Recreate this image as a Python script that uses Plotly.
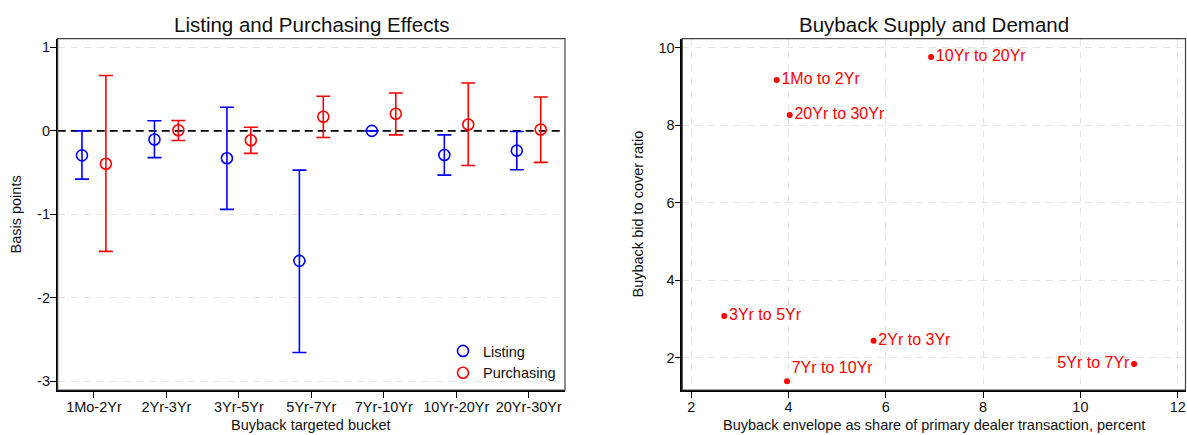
import plotly.graph_objects as go

W, H = 1187, 435

# ---------------- data ----------------
buckets = ["1Mo-2Yr", "2Yr-3Yr", "3Yr-5Yr", "5Yr-7Yr", "7Yr-10Yr", "10Yr-20Yr", "20Yr-30Yr"]
listing_est = [-0.293, -0.104, -0.328, -1.557, 0.0, -0.289, -0.237]
listing_lo = [-0.578, -0.321, -0.940, -2.655, None, -0.530, -0.466]
listing_hi = [0.0, 0.122, 0.282, -0.470, None, -0.048, -0.008]
purch_est = [-0.394, 0.008, -0.112, 0.169, 0.205, 0.076, 0.016]
purch_lo = [-1.444, -0.116, -0.270, -0.080, -0.048, -0.414, -0.378]
purch_hi = [0.664, 0.124, 0.044, 0.414, 0.454, 0.574, 0.406]

sd_labels = ["1Mo to 2Yr", "2Yr to 3Yr", "3Yr to 5Yr", "5Yr to 7Yr", "7Yr to 10Yr", "10Yr to 20Yr", "20Yr to 30Yr"]
envelope_share = [3.756, 5.748, 2.678, 11.104, 3.967, 6.93, 4.023]
bid_to_cover = [9.166, 2.438, 3.076, 1.837, 1.391, 9.76, 8.263]
sd_textpos = ["middle right", "middle right", "middle right", "middle left", "top right", "middle right", "middle right"]

left_yticks = [1, 0, -1, -2, -3]
left_yticktext = ["1", "0", "-1", "-2", "-3"]
left_gridvals = [1, -1, -2, -3]
right_xticks = [2, 4, 6, 8, 10, 12]
right_yticks = [2, 4, 6, 8, 10]

BLUE = "#0000ff"
RED = "#ff0000"
FONT = "Liberation Sans, Arial, sans-serif"
GRID = "#e6e6e6"

def px_x(p):
    return p / W

def px_y(p):
    return 1 - p / H

offset = 0.165
pos = list(range(1, len(buckets) + 1))
x_list = [p - offset for p in pos]
x_purch = [p + offset for p in pos]

def err(est, lo, hi):
    plus = [None if h is None else h - e for e, h in zip(est, hi)]
    minus = [None if l is None else e - l for e, l in zip(est, lo)]
    return plus, minus

lp, lm = err(listing_est, listing_lo, listing_hi)
pp, pm = err(purch_est, purch_lo, purch_hi)

fig = go.Figure()

marker_open = dict(symbol="circle-open", size=11, line=dict(width=1.6))

fig.add_trace(go.Scatter(
    x=x_list, y=listing_est, mode="markers", showlegend=False,
    marker=dict(color=BLUE, **marker_open),
    error_y=dict(type="data", symmetric=False, array=lp, arrayminus=lm,
                 color=BLUE, thickness=1.6, width=7),
    xaxis="x", yaxis="y"))
fig.add_trace(go.Scatter(
    x=x_purch, y=purch_est, mode="markers", showlegend=False,
    marker=dict(color=RED, **marker_open),
    error_y=dict(type="data", symmetric=False, array=pp, arrayminus=pm,
                 color=RED, thickness=1.6, width=7),
    xaxis="x", yaxis="y"))
# legend entries
fig.add_trace(go.Scatter(x=[None], y=[None], mode="markers", name="Listing",
                         marker=dict(color=BLUE, **marker_open), xaxis="x", yaxis="y"))
fig.add_trace(go.Scatter(x=[None], y=[None], mode="markers", name="Purchasing",
                         marker=dict(color=RED, **marker_open), xaxis="x", yaxis="y"))

# right panel
fig.add_trace(go.Scatter(
    x=envelope_share, y=bid_to_cover, mode="markers+text", text=sd_labels,
    textposition=sd_textpos, textfont=dict(color=RED, size=16, family=FONT),
    marker=dict(color=RED, size=6), showlegend=False, xaxis="x2", yaxis="y2",
    cliponaxis=False))

axis_common = dict(showline=True, linecolor="black", linewidth=1.6, ticks="outside",
                   ticklen=6, tickwidth=1.4, tickcolor="black",
                   tickfont=dict(size=14.5, color="#111", family=FONT), zeroline=False,
                   ticklabelstandoff=-3)

grid_common = dict(showgrid=True, gridcolor=GRID, griddash="7px,6px", gridwidth=1.2)

left_dom_y = [px_y(390), px_y(38.7)]
left_range_y = [-3.104, 1.104]

fig.update_layout(
    width=W, height=H, margin=dict(l=0, r=0, t=0, b=0),
    paper_bgcolor="white", plot_bgcolor="white",
    font=dict(family=FONT, color="#111"),
    xaxis=dict(domain=[px_x(57.7), px_x(565)], range=[0.5, 7.5],
               tickvals=pos, ticktext=buckets, showgrid=False, anchor="y", **axis_common),
    yaxis=dict(domain=left_dom_y, range=left_range_y,
               tickvals=left_yticks, ticktext=left_yticktext, showgrid=False,
               anchor="x", **axis_common),
    # overlay axis only used to draw the light grid (skipping the zero line)
    yaxis3=dict(overlaying="y", anchor="x", range=left_range_y, tickvals=left_gridvals,
                showticklabels=False, ticks="", showline=False, zeroline=False,
                **grid_common),
    xaxis2=dict(domain=[px_x(682.3), px_x(1185.5)], range=[1.815, 12.16],
                tickvals=right_xticks, anchor="y2", **grid_common, **axis_common),
    yaxis2=dict(domain=[px_y(390), px_y(38.7)], range=[1.166, 10.232],
                tickvals=right_yticks, anchor="x2", **grid_common, **axis_common),
    legend=dict(x=px_x(443), xanchor="left", y=px_y(362), yanchor="middle",
                bgcolor="rgba(0,0,0,0)", font=dict(size=14.5, family=FONT, color="#111"),
                itemwidth=30, tracegroupgap=0),
    showlegend=True,
)

# dummy trace to activate the overlay grid axis
fig.add_trace(go.Scatter(x=[None], y=[None], mode="markers", showlegend=False,
                         hoverinfo="skip", xaxis="x", yaxis="y3"))

# frames and zero line
fig.add_shape(type="rect", xref="x domain", yref="y domain", x0=0, x1=1, y0=0, y1=1,
              line=dict(color="#444", width=1.2), layer="above")
fig.add_shape(type="rect", xref="x2 domain", yref="y2 domain", x0=0, x1=1, y0=0, y1=1,
              line=dict(color="#444", width=1.2), layer="above")
fig.add_shape(type="line", xref="x domain", yref="y", x0=0, x1=1, y0=0, y1=0,
              line=dict(color="black", width=1.6, dash="8px,5px"), layer="below")

annos = [
    dict(text="Listing and Purchasing Effects", x=px_x(311.3), y=px_y(24), size=20.5, angle=0),
    dict(text="Buyback Supply and Demand", x=px_x(934.3), y=px_y(24), size=20.5, angle=0),
    dict(text="Buyback targeted bucket", x=px_x(311.3), y=px_y(425), size=14.5, angle=0),
    dict(text="Buyback envelope as share of primary dealer transaction, percent",
         x=px_x(934), y=px_y(425), size=14.5, angle=0),
    dict(text="Basis points", x=px_x(15), y=px_y(214.5), size=14.5, angle=-90),
    dict(text="Buyback bid to cover ratio", x=px_x(637), y=px_y(214.5), size=14.5, angle=-90),
]
for a in annos:
    fig.add_annotation(text=a["text"], x=a["x"], y=a["y"], xref="paper", yref="paper",
                       xanchor="center", yanchor="middle", showarrow=False,
                       textangle=a["angle"], font=dict(size=a["size"], family=FONT, color="#111"))

fig.write_html("out.html")
